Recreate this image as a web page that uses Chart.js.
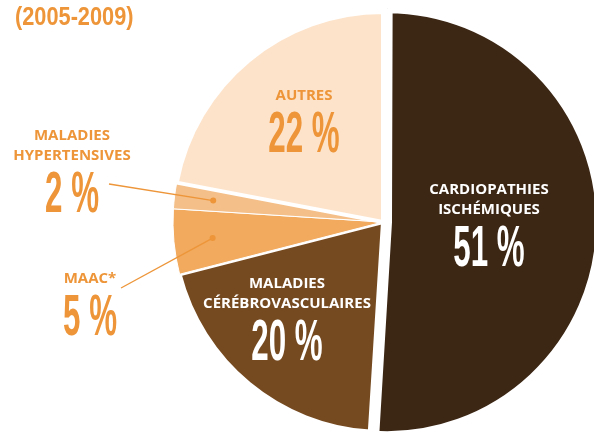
<!DOCTYPE html>
<html>
<head>
<meta charset="utf-8">
<script src="https://cdn.jsdelivr.net/npm/chart.js@4"></script>
<style>
  html, body { margin: 0; padding: 0; background: #fff; }
  canvas { display: block; }
</style>
</head>
<body>
<canvas id="causesChart" width="594" height="433"></canvas>
<script>
// Data
const categories = ["Cardiopathies ischémiques", "Maladies cérébrovasculaires", "MAAC*", "Maladies hypertensives", "Autres"];
const shares = [51, 20, 5, 2, 22];
const labelLines = [
  ["CARDIOPATHIES", "ISCHÉMIQUES"],
  ["MALADIES", "CÉRÉBROVASCULAIRES"],
  ["MAAC*"],
  ["MALADIES", "HYPERTENSIVES"],
  ["AUTRES"],
];
const periodLabel = "(2005-2009)";

// Styles
const sliceColors = ["#3c2614", "#764a20", "#f1aa5e", "#f4bf89", "#fde3ca"];
const orange = "#ed9538";
const labelColors = ["#ffffff", "#ffffff", orange, orange, orange];
const condensedFont = '"Liberation Sans", Arial, sans-serif';

// Label placement relative to pie centre: number baseline centre, optional leader start
const labelLayout = [
  { dx: 106, dy: 44 },
  { dx: -96, dy: 138 },
  { dx: -293, dy: 113, lx: -262, ly: 66 },
  { dx: -311, dy: -10, lx: -274, ly: -38 },
  { dx: -79, dy: -70 },
];

// condensed text: squeeze a bold sans horizontally
function drawSqueezed(ctx, text, x, base, size, sx, align, color) {
  ctx.save();
  ctx.translate(x, base);
  ctx.scale(sx, 1);
  ctx.font = "bold " + size + "px " + condensedFont;
  ctx.textAlign = align;
  ctx.textBaseline = "alphabetic";
  ctx.fillStyle = color;
  ctx.fillText(text, 0, 0);
  ctx.restore();
}

const sliceLabels = {
  id: "sliceLabels",
  afterDatasetsDraw(chart) {
    const ctx = chart.ctx;
    const arcs = chart.getDatasetMeta(0).data;
    ctx.save();

    // leader lines for the small slices
    arcs.forEach((arc, i) => {
      const lay = labelLayout[i];
      if (lay.lx === undefined) return;
      const p = arc.getProps(["x", "y", "startAngle", "endAngle", "outerRadius"], true);
      const mid = (p.startAngle + p.endAngle) / 2;
      const dotX = p.x + Math.cos(mid) * p.outerRadius * 0.815;
      const dotY = p.y + Math.sin(mid) * p.outerRadius * 0.815;
      ctx.strokeStyle = orange;
      ctx.lineWidth = 1.3;
      ctx.beginPath();
      ctx.moveTo(p.x + lay.lx, p.y + lay.ly);
      ctx.lineTo(dotX, dotY);
      ctx.stroke();
      ctx.fillStyle = orange;
      ctx.beginPath();
      ctx.arc(dotX, dotY, 3, 0, Math.PI * 2);
      ctx.fill();
    });

    // text blocks
    arcs.forEach((arc, i) => {
      const p = arc.getProps(["x", "y"], true);
      const lay = labelLayout[i];
      const cx = p.x + lay.dx;
      const base = p.y + lay.dy;
      const lines = labelLines[i];
      ctx.font = '700 15px "Open Sans"';
      ctx.textAlign = "center";
      ctx.textBaseline = "alphabetic";
      ctx.fillStyle = labelColors[i];
      lines.forEach((t, k) => {
        ctx.fillText(t, cx, base - 52 - (lines.length - 1 - k) * 20);
      });
      drawSqueezed(ctx, shares[i] + " %", cx, base, 58, 0.54, "center", labelColors[i]);
    });

    // period subtitle
    drawSqueezed(ctx, periodLabel, 15, 25, 25, 0.87, "left", orange);
    ctx.restore();
  },
};

const ctx = document.getElementById("causesChart").getContext("2d");
const causesChart = new Chart(ctx, {
  type: "pie",
  data: {
    labels: categories,
    datasets: [
      {
        data: shares,
        backgroundColor: sliceColors,
        borderColor: "#ffffff",
        borderWidth: [10, 4, 1, 1, 4],
        offset: [16, 0, 0, 0, 0],
      },
    ],
  },
  options: {
    responsive: false,
    animation: false,
    events: [],
    radius: 210,
    layout: { padding: { left: 172, top: 11, right: 0, bottom: 0 } },
    plugins: {
      legend: { display: false },
      tooltip: { enabled: false },
      title: { display: false },
    },
  },
  plugins: [sliceLabels],
});
</script>
</body>
</html>
